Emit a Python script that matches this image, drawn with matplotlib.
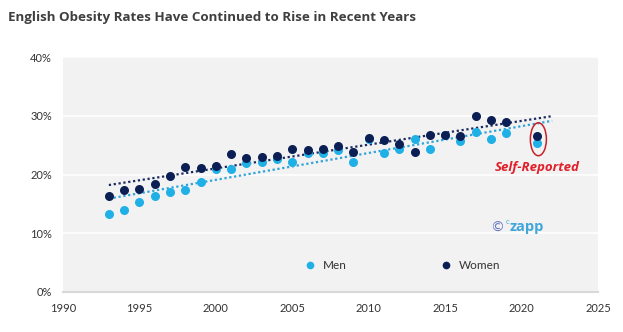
import matplotlib
matplotlib.use("Agg")
import matplotlib.pyplot as plt
import numpy as np
from matplotlib.patches import Ellipse

# obesity prevalence (%), Health Survey for England style series
years = [1993, 1994, 1995, 1996, 1997, 1998, 1999, 2000, 2001, 2002,
         2003, 2004, 2005, 2006, 2007, 2008, 2009, 2010, 2011, 2012,
         2013, 2014, 2015, 2016, 2017, 2018, 2019, 2021]
men = [13.2, 13.9, 15.3, 16.4, 17.0, 17.3, 18.7, 20.9, 21.0, 22.0,
       22.1, 22.6, 22.1, 23.6, 23.6, 24.1, 22.1, 26.0, 23.6, 24.3,
       26.0, 24.3, 26.7, 25.7, 27.3, 26.1, 27.0, 25.3]
women = [16.4, 17.3, 17.5, 18.4, 19.7, 21.2, 21.1, 21.4, 23.5, 22.8,
         23.0, 23.2, 24.3, 24.2, 24.4, 24.9, 23.9, 26.2, 25.8, 25.2,
         23.8, 26.8, 26.8, 26.6, 30.0, 29.2, 29.0, 26.5]
x_ticks = [1990, 1995, 2000, 2005, 2010, 2015, 2020, 2025]
y_ticks = [0, 10, 20, 30, 40]

men_col = '#1fb0e6'
women_col = '#0b1f55'

fig = plt.figure(figsize=(6.23, 3.32), dpi=100)
ax = fig.add_axes([63 / 623, 40 / 332, 535 / 623, 235 / 332])
ax.set_facecolor('#f2f2f2')

# linear trend lines, extended one year past the last point
yrs = np.array(years)
trend_x = np.array([years[0], 2022])
for vals, col in ((men, '#2ea3d9'), (women, '#1a2a60')):
    k, b = np.polyfit(yrs, vals, 1)
    ax.plot(trend_x, k * trend_x + b, ls=(0, (1, 1.2)), lw=1.6, color=col, zorder=2)

ax.plot(years, men, 'o', ms=6.5, color=men_col, mec='none', zorder=3, label='Men')
ax.plot(years, women, 'o', ms=6.5, color=women_col, mec='none', zorder=4, label='Women')

ax.set_xlim(1990, 2025)
ax.set_ylim(0, 40)
ax.set_xticks(x_ticks)
ax.set_yticks(y_ticks)
ax.set_yticklabels([f'{v}%' for v in y_ticks])
for t in ax.get_xticklabels() + ax.get_yticklabels():
    t.set_fontfamily('Lato')
    t.set_fontsize(8)
    t.set_color('#333333')
ax.tick_params(length=0, pad=8)
ax.yaxis.grid(True, color='white', lw=1.2)
ax.set_axisbelow(True)
for side in ('top', 'right', 'left'):
    ax.spines[side].set_visible(False)
ax.spines['bottom'].set_color('#d9d9d9')
ax.spines['bottom'].set_linewidth(1.5)

# highlight the self-reported 2021 values
ax.add_patch(Ellipse((2021.1, 26.0), 1.05, 5.6, fill=False, ec='#c8202a', lw=1.1, zorder=5))
ax.text(2021.0, 21.2, 'Self-Reported', color='#e0202a', fontsize=9.5, fontweight='bold',
        fontstyle='italic', family='Open Sans', ha='center', va='center')

# copyright mark
ax.text(2017.95, 11.0, '©', color='#6a7cc2', fontsize=10, family='DejaVu Sans', va='center')
ax.text(2018.95, 11.9, 'c', color='#41a6dc', fontsize=5.5, family='Open Sans', va='center')
ax.text(2019.25, 11.0, 'zapp', color='#41a6dc', fontsize=10.5, fontweight='bold',
        family='Open Sans', va='center')

leg = ax.legend(loc='center', bbox_to_anchor=(0.628, 0.112), ncol=2, frameon=False,
                columnspacing=7.4, handletextpad=0.1, markerscale=0.85,
                prop={'family': 'Lato', 'size': 8.5})
for t in leg.get_texts():
    t.set_color('#333333')

fig.text(8 / 623, 1 - 17 / 332, 'English Obesity Rates Have Continued to Rise in Recent Years',
         fontsize=9.6, fontweight='bold', family='Open Sans', color='#3f3f3f', va='center')

fig.savefig('out.png', dpi=100)
